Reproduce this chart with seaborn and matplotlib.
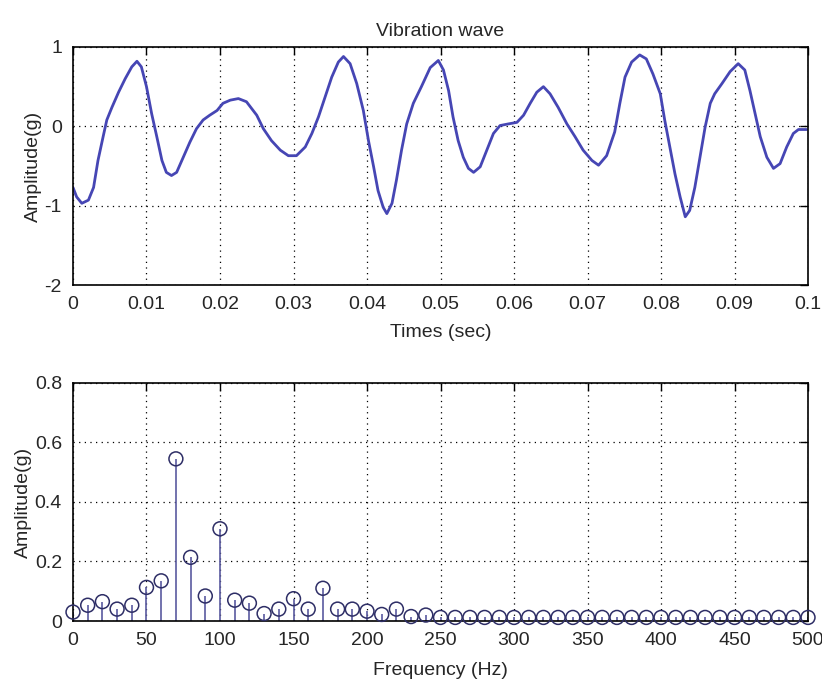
import numpy as np
import pandas as pd
import matplotlib
matplotlib.use("Agg")
import matplotlib.pyplot as plt
import seaborn as sns

# =========================================
# DATA
# =========================================

TIME = [
    0.0000, 0.0005, 0.0012, 0.0021, 0.0028, 0.0034, 0.0041, 0.0046, 0.0053,
    0.0062, 0.0071, 0.0080, 0.0087, 0.0093, 0.0100, 0.0107, 0.0114, 0.0121,
    0.0127, 0.0134, 0.0141, 0.0150, 0.0159, 0.0168, 0.0177, 0.0186, 0.0196,
    0.0204, 0.0214, 0.0225, 0.0236, 0.0250, 0.0259, 0.0270, 0.0282, 0.0293,
    0.0304, 0.0316, 0.0325, 0.0334, 0.0343, 0.0352, 0.0361, 0.0368, 0.0377,
    0.0386, 0.0395, 0.0402, 0.0409, 0.0415, 0.0422, 0.0427, 0.0434, 0.0440,
    0.0447, 0.0454, 0.0463, 0.0474, 0.0486, 0.0497, 0.0504, 0.0511, 0.0517,
    0.0524, 0.0531, 0.0538, 0.0545, 0.0554, 0.0563, 0.0572, 0.0581, 0.0592,
    0.0604, 0.0613, 0.0622, 0.0631, 0.0640, 0.0649, 0.0660, 0.0672, 0.0683,
    0.0694, 0.0706, 0.0715, 0.0726, 0.0737, 0.0744, 0.0751, 0.0760, 0.0771,
    0.0780, 0.0789, 0.0799, 0.0805, 0.0812, 0.0819, 0.0826, 0.0833, 0.0839,
    0.0846, 0.0853, 0.0860, 0.0867, 0.0873, 0.0883, 0.0894, 0.0905, 0.0914,
    0.0921, 0.0928, 0.0935, 0.0944, 0.0953, 0.0962, 0.0971, 0.0980, 0.0987,
    0.0998,
]

AMPLITUDE = [
    -0.77, -0.89, -0.97, -0.93, -0.77, -0.43, -0.13, 0.08, 0.24,
    0.43, 0.60, 0.75, 0.82, 0.75, 0.50, 0.16, -0.13, -0.43,
    -0.58, -0.62, -0.58, -0.39, -0.20, -0.03, 0.08, 0.14, 0.20,
    0.29, 0.33, 0.35, 0.31, 0.14, -0.03, -0.18, -0.30, -0.37,
    -0.37, -0.26, -0.09, 0.12, 0.37, 0.62, 0.81, 0.88, 0.79,
    0.54, 0.20, -0.18, -0.51, -0.81, -1.02, -1.10, -0.97, -0.68,
    -0.30, 0.03, 0.29, 0.50, 0.74, 0.83, 0.71, 0.45, 0.12,
    -0.18, -0.39, -0.53, -0.58, -0.51, -0.30, -0.09, 0.01, 0.03,
    0.05, 0.14, 0.29, 0.43, 0.50, 0.41, 0.24, 0.03, -0.13,
    -0.30, -0.43, -0.49, -0.37, -0.07, 0.29, 0.62, 0.81, 0.90,
    0.85, 0.66, 0.41, 0.08, -0.26, -0.60, -0.89, -1.14, -1.06,
    -0.77, -0.39, -0.01, 0.29, 0.41, 0.54, 0.69, 0.79, 0.71,
    0.45, 0.16, -0.13, -0.39, -0.53, -0.47, -0.26, -0.09, -0.04,
    -0.04,
]

FREQ = list(range(0, 510, 10))

SPECTRUM = [
    0.030, 0.053, 0.065, 0.040, 0.053, 0.113, 0.135, 0.545, 0.214, 0.084,
    0.310, 0.070, 0.060, 0.025, 0.040, 0.075, 0.040, 0.110, 0.040, 0.040,
    0.033, 0.022, 0.040, 0.015, 0.020, 0.012, 0.012, 0.012, 0.012, 0.012,
    0.012, 0.012, 0.012, 0.012, 0.012, 0.012, 0.012, 0.012, 0.012, 0.012,
    0.012, 0.012, 0.012, 0.012, 0.012, 0.012, 0.012, 0.012, 0.012, 0.012,
    0.012,
]

TIME_TICKS = [0, 0.01, 0.02, 0.03, 0.04, 0.05, 0.06, 0.07, 0.08, 0.09, 0.1]
TIME_LABELS = ["0", "0.01", "0.02", "0.03", "0.04", "0.05", "0.06", "0.07",
               "0.08", "0.09", "0.1"]
AMP_TICKS = [-2, -1, 0, 1]
FREQ_TICKS = [0, 50, 100, 150, 200, 250, 300, 350, 400, 450, 500]
SPEC_TICKS = [0, 0.2, 0.4, 0.6, 0.8]
SPEC_LABELS = ["0", "0.2", "0.4", "0.6", "0.8"]

WAVE_COLOR = "#4646b4"
STEM_COLOR = "#5a5aa0"
MARKER_EDGE = "#2e2e66"

sns.set_style("white")
plt.rcParams["font.family"] = ["Liberation Sans", "DejaVu Sans"]
plt.rcParams["axes.unicode_minus"] = False
plt.rcParams["xtick.direction"] = "in"
plt.rcParams["ytick.direction"] = "in"

wave_df = pd.DataFrame({"t": TIME, "amp": AMPLITUDE})
spec_df = pd.DataFrame({"f": FREQ, "amp": SPECTRUM})

fig = plt.figure(figsize=(8.22, 6.84), dpi=100)
ax1 = fig.add_axes([0.0888, 0.5833, 0.8942, 0.348])
ax2 = fig.add_axes([0.0888, 0.0921, 0.8942, 0.348])

FS_TICK = 14
FS_LABEL = 14
GRID_KW = dict(color="black", linestyle=(0, (1, 3.5)), linewidth=0.9)

# =========================================
# TOP: VIBRATION WAVE
# =========================================

sns.lineplot(data=wave_df, x="t", y="amp", ax=ax1, color=WAVE_COLOR,
             linewidth=2.0, sort=False)

ax1.set_xlim(0, 0.1)
ax1.set_ylim(-2, 1)
ax1.set_xticks(TIME_TICKS)
ax1.set_xticklabels(TIME_LABELS)
ax1.set_yticks(AMP_TICKS)
ax1.set_title("Vibration wave", fontsize=FS_LABEL, pad=8)
ax1.set_xlabel("Times (sec)", fontsize=FS_LABEL, labelpad=8)
ax1.set_ylabel("Amplitude(g)", fontsize=FS_LABEL, labelpad=2)
ax1.grid(True, **GRID_KW)

# =========================================
# BOTTOM: SPECTRUM (stem)
# =========================================

ax2.vlines(spec_df["f"], 0, spec_df["amp"], color=STEM_COLOR, linewidth=1.2,
           zorder=2)
sns.scatterplot(data=spec_df, x="f", y="amp", ax=ax2, marker="o", s=100,
                facecolor="none", edgecolor=MARKER_EDGE, linewidth=1.1,
                zorder=3, clip_on=False)

ax2.set_xlim(0, 500)
ax2.set_ylim(0, 0.8)
ax2.set_xticks(FREQ_TICKS)
ax2.set_yticks(SPEC_TICKS)
ax2.set_yticklabels(SPEC_LABELS)
ax2.set_xlabel("Frequency (Hz)", fontsize=FS_LABEL, labelpad=9)
ax2.set_ylabel("Amplitude(g)", fontsize=FS_LABEL, labelpad=2)
ax2.grid(True, **GRID_KW)

for ax in (ax1, ax2):
    ax.set_axisbelow(True)
    ax.tick_params(labelsize=FS_TICK, length=6, width=1, color="black",
                   top=True, right=True, pad=8)
    for sp in ax.spines.values():
        sp.set_color("black")
        sp.set_linewidth(1.2)

fig.savefig("out.png", dpi=100, facecolor="white")
plt.close(fig)
